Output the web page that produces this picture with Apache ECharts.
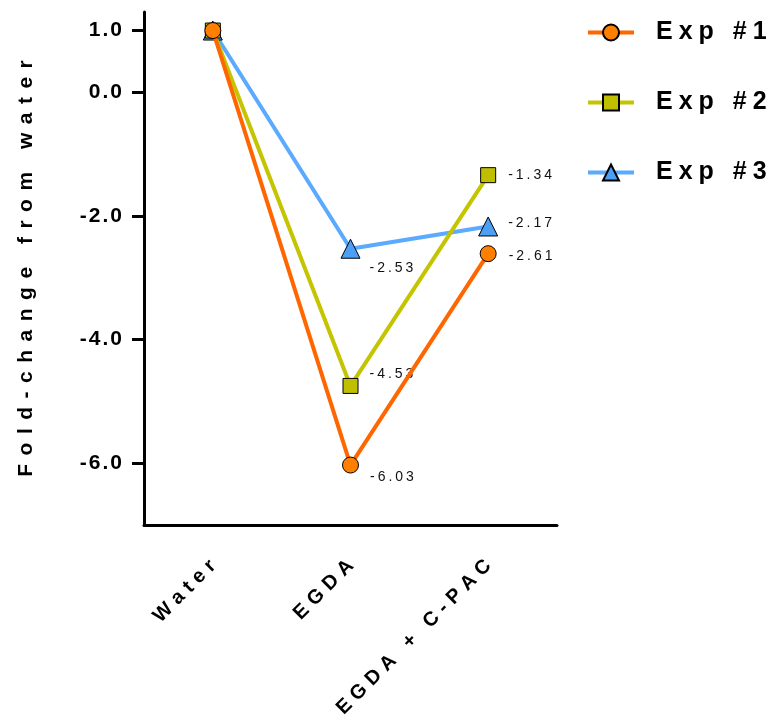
<!DOCTYPE html>
<html><head><meta charset="utf-8">
<script src="https://cdn.jsdelivr.net/npm/echarts@6.0.0/dist/echarts.min.js"></script>
<style>html,body{margin:0;padding:0;background:#fff}#chart{width:771px;height:721px}</style>
</head><body><div id="chart"></div>
<script>
const categories = ['Water', 'EGDA', 'EGDA + C-PAC'];
const seriesNames = ['Exp #1', 'Exp #2', 'Exp #3'];
const exp1 = [1.0, -6.03, -2.61];
const exp2 = [1.0, -4.75, -1.34];
const exp3 = [1.0, -2.53, -2.17];
const exp1Labels = ['', '-6.03', '-2.61'];
const exp2Labels = ['', '-4.53', '-1.34'];
const exp3Labels = ['', '-2.53', '-2.17'];
const yTicks = [1.0, 0.0, -2.0, -4.0, -6.0];
const yTitle = 'Fold-change from water';

const FONT = '"Liberation Sans", Arial, Helvetica, sans-serif';
// wrap every character in a rich token and put a fixed-width gap token between them (letter spacing)
function spaced(str) {
  return String(str).split('').map(function (ch) { return '{c|' + ch + '}'; }).join('{g| }');
}
function richStyle(size, weight, color, gap, extra) {
  const r = {
    c: { fontFamily: FONT, fontSize: size, fontWeight: weight, color: color, lineHeight: size + 4 },
    g: { fontFamily: FONT, fontSize: size, width: gap, lineHeight: size + 4 }
  };
  if (extra) Object.assign(r, extra);
  return r;
}

function makeSeries(name, values, labels, lineColor, fillColor, symbol, size, z, labelPlace) {
  return {
    name: name,
    type: 'line',
    z: z,
    symbol: symbol,
    symbolSize: size,
    lineStyle: { color: lineColor, width: 4 },
    itemStyle: { color: fillColor, borderColor: '#000', borderWidth: 1 },
    emphasis: { disabled: true },
    data: values.map(function (v, i) {
      const lp = labelPlace[i];
      return {
        value: v,
        label: lp ? { show: true, position: 'right', distance: lp[0], offset: [0, lp[1]] } : { show: false }
      };
    }),
    label: {
      fontFamily: FONT, fontSize: 14, color: '#111',
      formatter: function (p) { return spaced(labels[p.dataIndex]); },
      rich: richStyle(14, 'normal', '#111', 3)
    }
  };
}

const chart = echarts.init(document.getElementById('chart'), null, { renderer: 'canvas' });
chart.setOption({
  animation: false,
  backgroundColor: '#fff',
  grid: { left: 144, right: 214, top: 12, bottom: 196, containLabel: false },
  legend: {
    orient: 'vertical', left: 586, top: 18, itemGap: 41, padding: 0,
    itemWidth: 46, itemHeight: 20,
    data: seriesNames,
    lineStyle: { width: 4 },
    formatter: function (n) { return '{pad| }' + spaced(n); },
    textStyle: {
      fontFamily: FONT, fontSize: 25, fontWeight: 'bold', color: '#000', lineHeight: 28,
      rich: richStyle(25, 'bold', '#000', 6, { pad: { width: 17, fontSize: 25, lineHeight: 29 } })
    }
  },
  xAxis: {
    type: 'category',
    data: categories,
    boundaryGap: true,
    axisLine: { onZero: false, lineStyle: { color: '#000', width: 3 } },
    axisTick: { alignWithLabel: true, length: 12, lineStyle: { color: '#000', width: 3 } },
    axisLabel: {
      rotate: 45, margin: 38, fontFamily: FONT, fontSize: 20, fontWeight: 'bold', color: '#000',
      formatter: function (v) { return spaced(v); },
      rich: richStyle(20, 'bold', '#000', 6)
    },
    splitLine: { show: false }
  },
  yAxis: {
    type: 'value',
    min: -7, max: 1.3,
    name: spaced(yTitle),
    nameLocation: 'middle', nameGap: 105,
    nameTextStyle: { fontFamily: FONT, fontSize: 21, fontWeight: 'bold', color: '#000', rich: richStyle(21, 'bold', '#000', 8.5) },
    axisLine: { show: true, lineStyle: { color: '#000', width: 3 } },
    axisTick: { show: true, length: 12, customValues: yTicks, lineStyle: { color: '#000', width: 3 } },
    axisLabel: {
      customValues: yTicks, margin: 22, fontFamily: FONT, fontSize: 21, fontWeight: 'bold', color: '#000',
      formatter: function (v) { return spaced(Number(v).toFixed(1)); },
      rich: richStyle(21, 'bold', '#000', 2)
    },
    splitLine: { show: false }
  },
  series: [
    makeSeries(seriesNames[0], exp1, exp1Labels, '#FF6600', '#FF8000', 'circle', 16, 5, [null, [11, 12], [12, 2]]),
    makeSeries(seriesNames[1], exp2, exp2Labels, '#C4C400', '#BFBF00', 'rect', 15, 4, [null, [11, -12], [12, 0]]),
    makeSeries(seriesNames[2], exp3, exp3Labels, '#5AAAFF', '#4D9FF5', 'triangle', 19, 3, [null, [9, 19], [10, -3]])
  ]
});
</script></body></html>
